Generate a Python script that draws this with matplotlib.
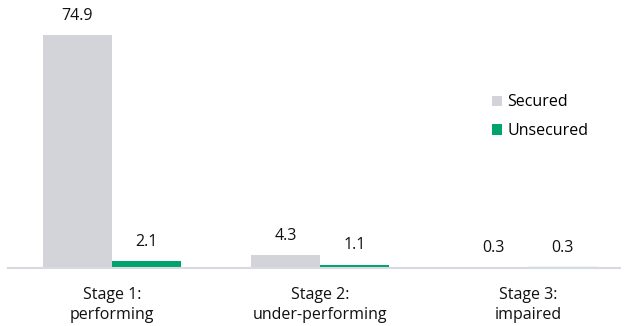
import matplotlib.pyplot as plt
import numpy as np

# data
stages = ["Stage 1:\nperforming", "Stage 2:\nunder-performing", "Stage 3:\nimpaired"]
secured = [74.9, 4.3, 0.3]
unsecured = [2.1, 1.1, 0.3]

plt.rcParams['font.family'] = ['Open Sans', 'DejaVu Sans']

fig = plt.figure(figsize=(6.28, 3.26), dpi=100)
ax = fig.add_axes([8 / 628, 1 - 268 / 326, 612 / 628, 258 / 326])

x = np.arange(len(stages))
w = 0.332
b1 = ax.bar(x - w / 2, secured, w, color='#D3D3DA', label='Secured')
b2 = ax.bar(x + w / 2, unsecured, w, color='#00A36C', label='Unsecured')
b2[2].set_color('#A8DCCB')

for bars, vals in [(b1, secured), (b2, unsecured)]:
    for bar, v in zip(bars, vals):
        ax.annotate(f"{v:.1f}", (bar.get_x() + bar.get_width() / 2, v),
                    xytext=(0, 8), textcoords='offset points',
                    ha='center', va='bottom', fontsize=11.5, color='#111111')

ax.set_xlim(-0.5, 2.442)
ax.set_ylim(0, 82.9)
ax.set_xticks(x)
ax.set_xticklabels(stages, fontsize=11.5, color='#111111', linespacing=1.3)
ax.tick_params(axis='x', length=0, pad=14)
ax.set_yticks([])
for s in ['top', 'right', 'left']:
    ax.spines[s].set_visible(False)
ax.spines['bottom'].set_color('#D9D9E2')
ax.spines['bottom'].set_linewidth(1.5)

ax.legend(loc='upper left', bbox_to_anchor=(478 / 612, 1 - 78 / 258), frameon=False,
          fontsize=11.5, handlelength=0.62, handleheight=0.62, handletextpad=0.3,
          labelspacing=0.8, borderaxespad=0)

fig.savefig("out.png", dpi=100)
